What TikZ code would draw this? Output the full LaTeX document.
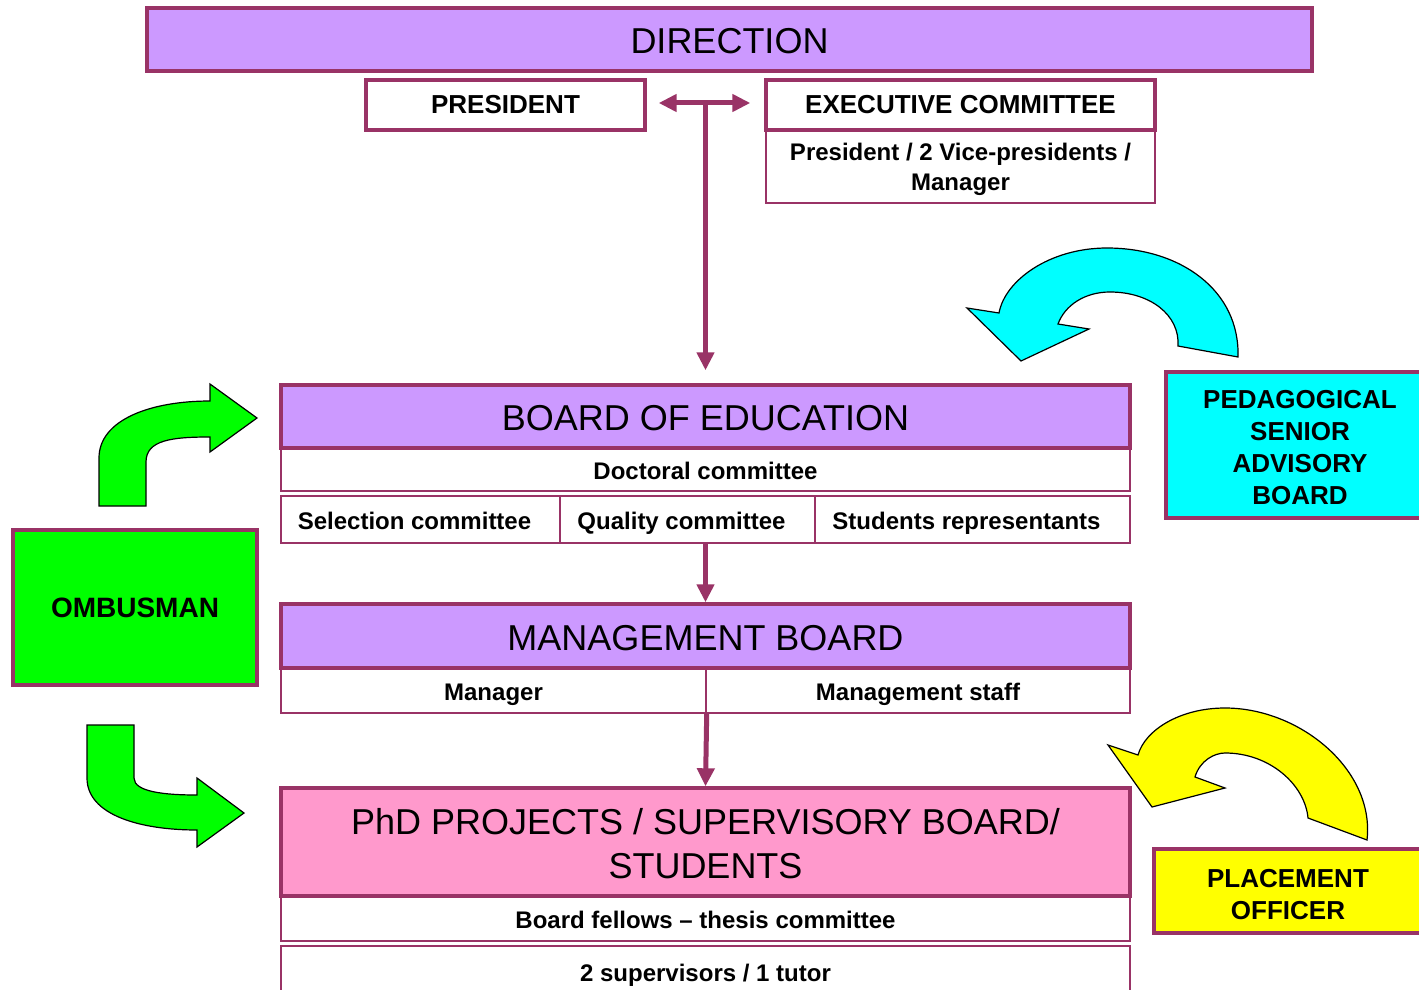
\documentclass[tikz,border=0pt]{standalone}
\usepackage{fontspec}
\setmainfont{Liberation Sans}
\usetikzlibrary{arrows.meta,calc}
\definecolor{borde}{HTML}{993366}
\definecolor{lila}{HTML}{CC99FF}
\definecolor{rosa}{HTML}{FF99CC}
\definecolor{cian}{HTML}{00FFFF}
\definecolor{verde}{HTML}{00FF00}
\definecolor{amarillo}{HTML}{FFFF00}
\newcommand{\alto}[1]{\rule{0pt}{#1}}
\newcommand{\izq}{\hspace*{6pt}}
\begin{document}
\begin{tikzpicture}[x=0.5pt,y=-0.5pt,
    titulo/.style={draw=borde, line width=1.7pt, fill=lila, inner sep=0pt, align=center, font=\fontsize{18}{22}\selectfont},
    linea/.style={text height=14.4pt, text depth=0pt},
    cabecera/.style={draw=borde, line width=1.7pt, fill=white, inner sep=0pt, font=\fontsize{13}{16}\selectfont\bfseries},
    sub/.style={draw=borde, line width=0.7pt, fill=white, inner sep=0pt, align=center, font=\fontsize{12}{15}\selectfont\bfseries},
    fila/.style={sub, text height=11pt, text depth=1pt},
    lateral/.style={draw=borde, line width=1.7pt, inner sep=0pt, align=center, font=\fontsize{13}{16}\selectfont\bfseries},
    flechita/.style={draw=borde, line width=2.5pt, -{Triangle[length=9pt,width=8.5pt]}},
    curva/.style={draw=black, line width=0.6pt}]
    \useasboundingbox (0,0) rectangle (1419,990);
    % Direccion
    \node[titulo, linea, minimum width=582.5pt, minimum height=31.5pt] (direccion) at (729.5,39.5) {DIRECTION};
    \node[cabecera, minimum width=139.5pt, minimum height=25pt] (presidente) at (505.5,105) {PRESIDENT};
    \node[sub, minimum width=194.5pt, minimum height=36.5pt] (ejecsub) at (960.5,166.5) {\alto{11.8pt}President / 2 Vice-presidents /\\Manager};
    \node[cabecera, minimum width=194.5pt, minimum height=25pt] (ejecutivo) at (960.5,105) {EXECUTIVE COMMITTEE};
    % Board of education
    \node[fila, minimum width=424.5pt, minimum height=21.5pt] (doctoral) at (705.5,469.5) {Doctoral committee};
    \node[titulo, linea, minimum width=424.5pt, minimum height=31.5pt] (educacion) at (705.5,416.5) {BOARD OF EDUCATION};
    \node[fila, minimum width=139.5pt, minimum height=23.5pt] (seleccion) at (420.5,519.5) {Selection committee\izq};
    \node[fila, minimum width=127.5pt, minimum height=23.5pt] (calidad) at (687.5,519.5) {Quality committee\izq};
    \node[fila, minimum width=157.5pt, minimum height=23.5pt] (estudiantes) at (972.5,519.5) {Students representants\izq};
    % Management board
    \node[fila, minimum width=212.5pt, minimum height=22.5pt] (manager) at (493.5,690.5) {Manager};
    \node[fila, minimum width=212pt, minimum height=22.5pt] (staff) at (918,690.5) {Management staff};
    \node[titulo, linea, minimum width=424.5pt, minimum height=32pt] (gestion) at (705.5,636) {MANAGEMENT BOARD};
    % PhD
    \node[fila, minimum width=424.5pt, minimum height=22.5pt] (fellows) at (705.5,918.5) {Board fellows \textendash{} thesis committee};
    \node[fila, minimum width=424.5pt, minimum height=25pt] (tutores) at (705.5,971) {2 supervisors / 1 tutor};
    \node[titulo, fill=rosa, minimum width=424.5pt, minimum height=54pt] (phd) at (705.5,842) {\alto{15pt}PhD PROJECTS / SUPERVISORY BOARD/\\STUDENTS};
    % Cajas laterales
    \node[lateral, fill=cian, minimum width=134pt, minimum height=73pt] (pedagogico) at (1300,445) {\alto{11.3pt}PEDAGOGICAL\\SENIOR\\ADVISORY\\BOARD};
    \node[lateral, fill=verde, minimum width=122pt, minimum height=77.5pt, font=\fontsize{14}{17}\selectfont\bfseries] (ombusman) at (135,607.5) {OMBUSMAN};
    \node[lateral, fill=amarillo, minimum width=134pt, minimum height=42pt] (placement) at (1288,891) {\alto{12.3pt}PLACEMENT\\OFFICER};
    % Flechas
    \coordinate (cruce) at ($(presidente.east)!0.5!(ejecutivo.west)+(0,-2)$);
    \draw[flechita, {Triangle[length=9pt,width=8.5pt]}-{Triangle[length=9pt,width=8.5pt]}] ([xshift=6pt,yshift=1pt]presidente.east) -- ([xshift=-7pt,yshift=1pt]ejecutivo.west);
    \draw[flechita, shorten >=6.5pt] (cruce) -- (cruce |- educacion.north);
    \draw[flechita] (educacion.center |- calidad.south) -- (gestion.north);
    \draw[flechita] (manager.south east) -- (phd.north);
    % Flechas curvas
    \filldraw[curva, fill=verde] (99,506) -- (99,458) .. controls (99,420) and (150,401) .. (210,401) -- (210,384) -- (257,418) -- (210,452) -- (210,437) .. controls (172,437) and (146,440) .. (146,462) -- (146,506) -- cycle;
    \filldraw[curva, fill=verde] (87,725) -- (87,778) .. controls (87,815) and (140,830) .. (197,830) -- (197,847) -- (244,813) -- (197,778) -- (197,795) .. controls (165,795) and (134,792) .. (134,778) -- (134,725) -- cycle;
    \filldraw[curva, fill=cian] (1238,357) .. controls (1240,290) and (1180,248) .. (1107,248) .. controls (1050,248) and (1005,280) .. (999,313) -- (967,308) -- (1021,361) -- (1089,329) -- (1058,324) .. controls (1065,305) and (1085,292) .. (1110,292) .. controls (1150,292) and (1180,315) .. (1178,346) -- cycle;
    \filldraw[curva, fill=amarillo] (1367,840) .. controls (1375,770) and (1300,708) .. (1225,708) .. controls (1180,708) and (1145,730) .. (1138,755) -- (1108,745) -- (1152,807) -- (1225,788) -- (1195,777) .. controls (1200,760) and (1215,753) .. (1225,753) .. controls (1270,753) and (1305,785) .. (1308,818) -- cycle;
\end{tikzpicture}
\end{document}
